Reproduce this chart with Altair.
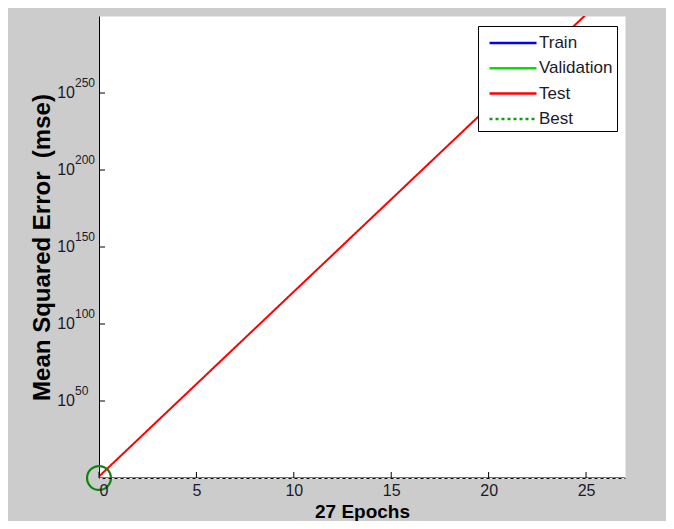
import altair as alt
import pandas as pd

# ---- data ----
series_names = ["Train", "Validation", "Test", "Best"]
series_colors = ["#0000ff", "#00e000", "#ff0000", "#179a17"]
series_dashes = [[1, 0], [1, 0], [1, 0], [3, 3]]

epochs_full = [0, 1, 2, 3, 4, 5, 6, 7, 8, 9, 10, 11, 12, 13, 14, 15, 16, 17, 18, 19, 20, 21, 22, 23, 24, 25, 26, 27]
train_mse = [1.0, 1.0, 1.0, 1.0, 1.0, 1.0, 1.0, 1.0, 1.0, 1.0, 1.0, 1.0, 1.0, 1.0,
             1.0, 1.0, 1.0, 1.0, 1.0, 1.0, 1.0, 1.0, 1.0, 1.0, 1.0, 1.0, 1.0, 1.0]
val_mse = [1.0, 1.0, 1.0, 1.0, 1.0, 1.0, 1.0, 1.0, 1.0, 1.0, 1.0, 1.0, 1.0, 1.0,
           1.0, 1.0, 1.0, 1.0, 1.0, 1.0, 1.0, 1.0, 1.0, 1.0, 1.0, 1.0, 1.0, 1.0]
test_epochs = [0, 1, 2, 3, 4, 5, 6, 7, 8, 9, 10, 11, 12, 13, 14, 15, 16, 17, 18, 19, 20, 21, 22, 23, 24, 25]
test_mse = [1e1, 1e13, 1e25, 1e37, 1e49, 1e61, 1e73, 1e85, 1e97, 1e109, 1e121, 1e133, 1e145,
            1e157, 1e169, 1e181, 1e193, 1e205, 1e217, 1e229, 1e241, 1e253, 1e265, 1e277,
            1e289, 1e301]
best_line_epochs = [0, 27]
best_line_mse = [1.0, 1.0]
best_epoch = [0]
best_mse = [1.0]

x_tick_values = [0, 5, 10, 15, 20, 25]
y_tick_exponents = [50, 100, 150, 200, 250]

# ---- tables ----
df_train = pd.DataFrame({"epoch": epochs_full, "mse": train_mse, "series": "Train"})
df_val = pd.DataFrame({"epoch": epochs_full, "mse": val_mse, "series": "Validation"})
df_test = pd.DataFrame({"epoch": test_epochs, "mse": test_mse, "series": "Test"})
df_best = pd.DataFrame({"epoch": best_line_epochs, "mse": best_line_mse, "series": "Best"})
df_circle = pd.DataFrame({"epoch": best_epoch, "mse": best_mse})
df_xt = pd.DataFrame({"epoch": x_tick_values})
df_yt = pd.DataFrame({"exp": [str(e) for e in y_tick_exponents],
                      "mse": [10.0 ** e for e in y_tick_exponents]})

W, H = 526, 462
SANS = "Liberation Sans, Arial, sans-serif"
TXT = "#1a1a2a"

xs = alt.Scale(domain=[0, 27], nice=False, zero=False)
ys = alt.Scale(type="log", domain=[1, 1e300], nice=False)

xaxis = alt.Axis(title="27 Epochs", values=x_tick_values, format="d", grid=False,
                 ticks=False, labelFont=SANS, labelFontSize=16, labelColor=TXT,
                 labelPadding=4, domainColor="black", domainWidth=1,
                 domainDash=[3, 3], domainDashOffset=3, zindex=1,
                 titleFont=SANS, titleFontSize=19, titleFontWeight="bold",
                 titleColor="black", titleY=39, titleBaseline="alphabetic")
yaxis = alt.Axis(title="Mean Squared Error\u00a0 (mse)", labels=False, ticks=False, grid=False,
                 domainColor="black", domainWidth=1, titleFont=SANS, titleFontSize=24,
                 titleFontWeight="bold", titleColor="black", titleX=-57, titleY=H / 2,
                 titleAngle=-90, titleBaseline="middle", titleAlign="center")

X = alt.X("epoch:Q", scale=xs, axis=xaxis)
Y = alt.Y("mse:Q", scale=ys, axis=yaxis)

leg = alt.Legend(title=None, orient="none", legendX=379, legendY=10,
                 fillColor="white", strokeColor="black", padding=4,
                 symbolType="M-2,0H2", symbolSize=552, symbolStrokeWidth=2.5,
                 symbolOffset=18, labelOffset=13, labelFont=SANS, labelFontSize=17,
                 labelColor=TXT, rowPadding=4.3)
C = alt.Color("series:N", scale=alt.Scale(domain=series_names, range=series_colors), legend=leg)
D = alt.StrokeDash("series:N", scale=alt.Scale(domain=series_names, range=series_dashes), legend=leg)


def line_layer(df, width):
    return alt.Chart(df).mark_line(clip=True, strokeWidth=width).encode(x=X, y=Y, color=C, strokeDash=D)


train_l = line_layer(df_train, 2)
val_l = line_layer(df_val, 2)
test_l = line_layer(df_test, 2)
best_l = line_layer(df_best, 1.5)

circle = alt.Chart(df_circle).mark_point(shape="circle", size=570, filled=False, opacity=1,
                                         strokeWidth=2.2, color="#0b860b").encode(x=X, y=Y)

xticks = alt.Chart(df_xt).mark_rule(color="black", strokeWidth=1).encode(
    x=X, y=alt.value(H), y2=alt.value(H - 6))
yticks = alt.Chart(df_yt).mark_rule(color="black", strokeWidth=1).encode(
    y=Y, x=alt.value(0), x2=alt.value(6))
ylab_base = alt.Chart(df_yt).mark_text(text="10", font=SANS, fontSize=16, align="right",
                                       baseline="middle", color=TXT).encode(
    y=Y, x=alt.value(-24))
ylab_exp = alt.Chart(df_yt).mark_text(font=SANS, fontSize=12, align="left",
                                      baseline="middle", dy=-10, color=TXT).encode(
    y=Y, x=alt.value(-24), text="exp:N")

chart = alt.layer(train_l, val_l, test_l, best_l, circle, xticks, yticks, ylab_base, ylab_exp).properties(
    width=W, height=H,
    padding={"left": 91, "top": 8, "right": 41, "bottom": 43},
    autosize=alt.AutoSizeParams(type="none"),
).configure(background="#cccccc").configure_view(fill="white", stroke="transparent")

chart.save("out.html", embed_options={"renderer": "svg", "actions": False})
